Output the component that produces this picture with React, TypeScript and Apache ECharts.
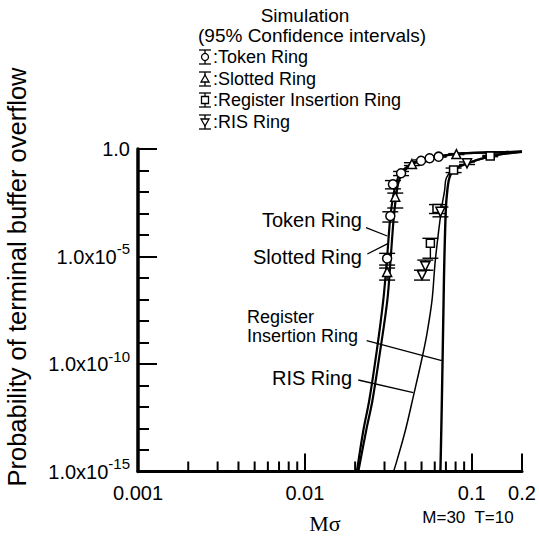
import React, { useEffect, useRef } from 'react';
import * as echarts from 'echarts';

// ---- data (Mσ, probability) ----
const tokenCurve: number[][] = [
  [0.0205, 1e-15], [0.0224, 8.1e-14], [0.0243, 2.0e-12], [0.027, 4.4e-10], [0.0295, 9.3e-8],
  [0.0311, 9.3e-6], [0.0325, 6.8e-4], [0.0339, 7.2e-3], [0.0353, 0.026], [0.0373, 0.076],
  [0.0435, 0.2], [0.0492, 0.285], [0.0622, 0.43], [0.0809, 0.59], [0.129, 0.69], [0.2, 0.75],
];
const slottedCurve: number[][] = [
  [0.0209, 1e-15], [0.0233, 8.1e-14], [0.0254, 2.0e-12], [0.0283, 4.4e-10], [0.0312, 9.3e-8],
  [0.0327, 9.3e-6], [0.0341, 6.8e-4], [0.0353, 7.2e-3], [0.0363, 0.026], [0.0384, 0.076],
  [0.044, 0.2], [0.0495, 0.285], [0.0622, 0.43], [0.0809, 0.59], [0.129, 0.69], [0.2, 0.75],
];
const risCurve: number[][] = [
  [0.034, 1e-15], [0.0356, 3.2e-15], [0.04, 8.1e-14], [0.0448, 3.5e-12], [0.0503, 1.8e-10],
  [0.0539, 2.6e-9], [0.0578, 9.3e-8], [0.0605, 6.8e-6], [0.0657, 1.45e-3], [0.0688, 0.0123],
  [0.0704, 0.045], [0.0778, 0.114], [0.0937, 0.216], [0.129, 0.44], [0.2, 0.75],
];
const registerCurve: number[][] = [
  [0.0649, 1e-15], [0.0662, 2.0e-12], [0.0678, 9.3e-8], [0.0685, 6.8e-6], [0.0699, 1.45e-3],
  [0.0711, 8.9e-3], [0.0734, 0.045], [0.0778, 0.105], [0.0916, 0.2], [0.129, 0.47],
  [0.163, 0.63], [0.2, 0.75],
];

// simulation points: [Mσ, probability, lower, upper]
const tokenSim: number[][] = [
  [0.0311, 8.1e-6, 4.0e-6, 1.4e-5], [0.0325, 7.6e-4, 4.0e-4, 1.2e-3], [0.0337, 0.023, 0.014, 0.034],
  [0.0377, 0.074, 0.058, 0.09], [0.0497, 0.285, 0.26, 0.31], [0.0559, 0.37, 0.35, 0.39],
  [0.0633, 0.44, 0.42, 0.46],
];
const slottedSim: number[][] = [
  [0.0311, 1.9e-6, 8e-7, 2.9e-6], [0.0348, 6.0e-3, 1.8e-3, 8.9e-3], [0.0438, 0.2, 0.17, 0.23],
  [0.0809, 0.58, 0.55, 0.61],
];
const registerSim: number[][] = [
  [0.0565, 4.1e-5, 8.3e-6, 7.0e-5], [0.0619, 1.7e-3, 1.0e-3, 2.6e-3], [0.0778, 0.105, 0.08, 0.13],
  [0.129, 0.47, 0.44, 0.5],
];
const risSim: number[][] = [
  [0.0527, 3.5e-6, 2.3e-6, 6.8e-6], [0.0503, 1.35e-6, 8e-7, 2.3e-6], [0.0649, 1.2e-3, 7e-4, 2.0e-3],
  [0.0937, 0.216, 0.19, 0.25],
];

// ---- axes (log10 scale shown on value axes) ----
const X_MIN = 0.001;
const X_MAX = 0.2;
const Y_MIN = 1e-15;
const Y_MAX = 1;
const xMinorTicks = [0.002, 0.003, 0.004, 0.005, 0.006, 0.007, 0.008, 0.009,
  0.02, 0.03, 0.04, 0.05, 0.06, 0.07, 0.08, 0.09];

const L = (v: number) => Math.log10(v);
const FONT = '"Liberation Sans", Arial, Helvetica, sans-serif';

function glyph(kind: string, cx: number, cy: number) {
  const ls = { stroke: '#000', lineWidth: 1.3 };
  const mk = { fill: '#fff', stroke: '#000', lineWidth: 1.3 };
  let marker: any;
  if (kind === 'circle') marker = { type: 'circle', shape: { cx: 0, cy: 0, r: 3.5 }, style: mk };
  else if (kind === 'triangle') marker = { type: 'polygon', shape: { points: [[0, -4], [4, 3], [-4, 3]] }, style: mk };
  else if (kind === 'rect') marker = { type: 'rect', shape: { x: -3.5, y: -3.5, width: 7, height: 7 }, style: mk };
  else marker = { type: 'polygon', shape: { points: [[0, 4], [4, -3], [-4, -3]] }, style: mk };
  return {
    type: 'group', x: cx, y: cy, z: 100,
    children: [
      { type: 'line', shape: { x1: 0, y1: -7, x2: 0, y2: 7 }, style: ls },
      { type: 'line', shape: { x1: -6, y1: -7, x2: 6, y2: -7 }, style: ls },
      { type: 'line', shape: { x1: -6, y1: 7, x2: 6, y2: 7 }, style: ls },
      marker,
    ],
  };
}

function txt(text: string, x: number, y: number, size: number, align = 'left', family = FONT, extra: any = {}) {
  return {
    type: 'text', x, y, z: 100, ...extra,
    style: { text, fontSize: size, fontFamily: family, fill: '#000', align, verticalAlign: 'middle' },
  };
}

function seg(x1: number, y1: number, x2: number, y2: number, w = 1.3) {
  return { type: 'line', z: 100, shape: { x1, y1, x2, y2 }, style: { stroke: '#000', lineWidth: w } };
}

function curve(data: number[][], width: number) {
  return {
    type: 'line', data: data.map((p) => [L(p[0]), L(p[1])]), showSymbol: false, smooth: 0.35, z: 2,
    lineStyle: { color: '#000', width }, silent: true,
  };
}

function errorBars(pts: number[][]) {
  return {
    type: 'custom', z: 3, silent: true,
    data: pts.map((p) => [L(p[0]), L(p[2]), L(p[3])]),
    encode: { x: 0, y: [1, 2] },
    renderItem: (_params: any, api: any) => {
      const x = api.value(0);
      const lo = api.coord([x, api.value(1)]);
      const hi = api.coord([x, api.value(2)]);
      const w = 8;
      const st = { stroke: '#000', lineWidth: 1.4 };
      return {
        type: 'group',
        children: [
          { type: 'line', shape: { x1: lo[0], y1: lo[1], x2: hi[0], y2: hi[1] }, style: st },
          { type: 'line', shape: { x1: lo[0] - w, y1: lo[1], x2: lo[0] + w, y2: lo[1] }, style: st },
          { type: 'line', shape: { x1: hi[0] - w, y1: hi[1], x2: hi[0] + w, y2: hi[1] }, style: st },
        ],
      };
    },
  };
}

function markers(pts: number[][], symbol: string, rotate = 0, size = 8) {
  return {
    type: 'scatter', z: 4, silent: true, symbol, symbolSize: size, symbolRotate: rotate,
    data: pts.map((p) => [L(p[0]), L(p[1])]),
    itemStyle: { color: '#fff', borderColor: '#000', borderWidth: 1.5, opacity: 1 },
  };
}

// minor x ticks at 2..9 × each decade, placed through the x axis scale
function xMinorTickSeries(values: number[], len: number) {
  return {
    type: 'custom', clip: false, silent: true, z: 5,
    data: values.map((v) => [L(v), L(Y_MIN)]),
    encode: { x: 0, y: 1 },
    renderItem: (_p: any, api: any) => {
      const pt = api.coord([api.value(0), api.value(1)]);
      return {
        type: 'group',
        children: [{ type: 'line', shape: { x1: pt[0], y1: pt[1], x2: pt[0], y2: pt[1] - len }, style: { stroke: '#000', lineWidth: 2 } }],
      };
    },
  };
}

export default function App() {
  const ref = useRef<HTMLDivElement>(null);
  useEffect(() => {
    document.body.style.margin = '0';
    const chart = echarts.init(ref.current!, null, { renderer: 'svg' });
    const option: any = {
      animation: false,
      grid: { left: 138, right: 17, top: 149, bottom: 64.5 },
      xAxis: {
        type: 'value', min: L(X_MIN), max: L(X_MAX), interval: 1,
        axisLine: { show: true, onZero: false, lineStyle: { color: '#000', width: 3 } },
        axisTick: { show: true, inside: true, length: 18, lineStyle: { color: '#000', width: 2 } },
        axisLabel: {
          show: true, showMaxLabel: true, showMinLabel: true, margin: 11, fontSize: 20, fontFamily: FONT, color: '#000',
          formatter: (v: number) => String(parseFloat(Math.pow(10, v).toPrecision(1))),
        },
        splitLine: { show: false },
      },
      yAxis: {
        type: 'value', min: L(Y_MIN), max: L(Y_MAX), interval: 5,
        axisLine: { show: true, onZero: false, lineStyle: { color: '#000', width: 3.5 } },
        axisTick: { show: true, inside: true, length: 19, lineStyle: { color: '#000', width: 2 } },
        minorTick: { show: true, splitNumber: 5, length: 11, lineStyle: { color: '#000', width: 2 } },
        axisLabel: {
          show: true, margin: 8, color: '#000',
          formatter: (v: number) => {
            const e = Math.round(v);
            return e === 0 ? '{b|1.0}' : `{b|1.0x10}{s|${e}}`;
          },
          rich: {
            b: { fontSize: 20, fontFamily: FONT, color: '#000' },
            s: { fontSize: 15, fontFamily: FONT, color: '#000', padding: [0, 0, 16, 0] },
          },
        },
        splitLine: { show: false },
        minorSplitLine: { show: false },
      },
      series: [
        xMinorTickSeries(xMinorTicks, 10),
        curve(tokenCurve, 2.2),
        curve(slottedCurve, 2.2),
        curve(risCurve, 1.5),
        curve(registerCurve, 2.4),
        errorBars(tokenSim), errorBars(slottedSim), errorBars(registerSim), errorBars(risSim),
        markers(tokenSim, 'circle', 0, 9),
        markers(slottedSim, 'triangle', 0, 9),
        markers(registerSim, 'rect', 0, 8),
        markers(risSim, 'triangle', 180, 9),
      ],
      graphic: [
        txt('Simulation', 305, 15, 19, 'center'),
        txt('(95% Confidence intervals)', 198, 35, 19, 'left'),
        glyph('circle', 205, 57), txt(':Token Ring', 213, 57, 18),
        glyph('triangle', 205, 79), txt(':Slotted Ring', 213, 79, 18),
        glyph('rect', 205, 100), txt(':Register Insertion Ring', 213, 100, 18),
        glyph('inv', 205, 122), txt(':RIS Ring', 213, 122, 18),

        txt('Token Ring', 362, 220, 20, 'right'), seg(366, 227.7, 387.3, 236),
        txt('Slotted Ring', 362, 257, 20, 'right'), seg(367.3, 254, 388.3, 243.3),
        txt('Register', 247, 317, 18, 'left'),
        txt('Insertion Ring', 358, 336, 18, 'right'), seg(366.7, 340.7, 441.7, 360.7),
        txt('RIS Ring', 352, 378, 20, 'right'), seg(358.3, 380, 413.3, 392.7),

        txt('Probability of terminal buffer overflow', 17, 277, 25.5, 'center', FONT, { rotation: Math.PI / 2 }),
        txt('Mσ', 325, 523, 22, 'center', '"Liberation Serif", "Times New Roman", serif'),
        txt('M=30  T=10', 468, 517, 17, 'center'),
      ],
    };
    chart.setOption(option);
    return () => chart.dispose();
  }, []);
  return <div ref={ref} style={{ width: 539, height: 536, background: '#fff' }} />;
}
